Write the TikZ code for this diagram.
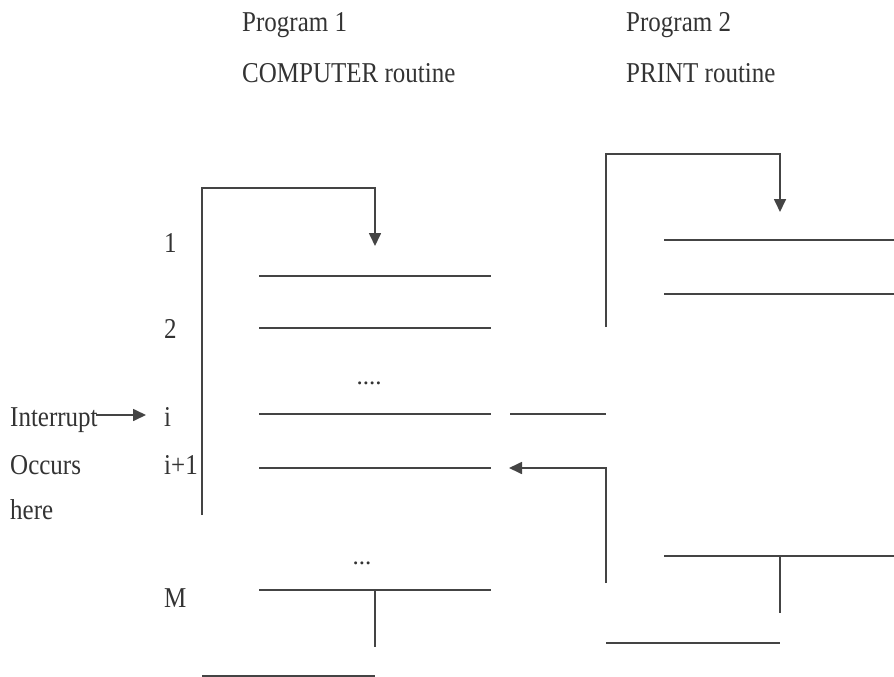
\documentclass[tikz,border=0pt]{standalone}
\usepackage{fontspec}
\setmainfont{Liberation Serif}
\usetikzlibrary{arrows.meta}
\definecolor{ink}{HTML}{333333}
\definecolor{rule}{HTML}{444444}
% slightly tall lettering
\newcommand{\tallt}[1]{\scalebox{1}[1.15]{#1}}
\tikzset{
  lbl/.style={anchor=base west, inner sep=0pt, text=ink, font=\fontsize{25}{28}\selectfont},
  dots/.style={anchor=base, inner sep=0pt, text=ink, font=\fontsize{25}{28}\selectfont},
  wire/.style={draw=rule, line width=1.7pt},
  flow/.style={wire, -{Triangle[length=13pt,width=12pt]}},
}
\begin{document}
\begin{tikzpicture}[x=1pt,y=-1pt]
\useasboundingbox (0,0) rectangle (894,677);

% headings
\node[lbl] (p1)  at (242,32) {\tallt{Program 1}};
\node[lbl] (p1r) at (242,82) {\tallt{COMPUTER routine}};
\node[lbl] (p2)  at (626,32) {\tallt{Program 2}};
\node[lbl] (p2r) at (626,82) {\tallt{PRINT routine}};

% statement numbers of program 1
\node[lbl] (n1) at (164,252) {\tallt{1}};
\node[lbl] (n2) at (164,338) {\tallt{2}};
\node[lbl] (ni) at (164,426) {\tallt{i}};
\node[lbl] (nj) at (164,474) {\tallt{i+1}};
\node[lbl] (nm) at (164,607) {\tallt{M}};
\node[dots] (d1) at (369,384) {....};
\node[dots] (d2) at (362,564) {...};

% interrupt note
\node[lbl] (int) at (10,426) {\tallt{Interrupt}};
\node[lbl] (occ) at (10,474) {\tallt{Occurs}};
\node[lbl] (her) at (10,519) {\tallt{here}};
\coordinate (intA) at (96,415);
\coordinate (intB) at (146,415);
\draw[flow] (intA) -- (intB);

% program 1 statements
\draw[wire] (259,276) -- (491,276);
\draw[wire] (259,328) -- (491,328);
\draw[wire] (259,414) -- (491,414);
\draw[wire] (259,468) -- (491,468);
\draw[wire] (259,590) -- (491,590);
\draw[wire] (375,590) -- (375,647);
\draw[wire] (202,676) -- (375,676);

% entry into program 1
\coordinate (a1) at (202,515);
\coordinate (a2) at (202,188);
\coordinate (a3) at (375,188);
\coordinate (a4) at (375,246);
\draw[flow] (a1) -- (a2) -- (a3) -- (a4);

% jump out at i
\draw[wire] (510,414) -- (606,414);

% program 2 statements
\draw[wire] (664,240) -- (894,240);
\draw[wire] (664,294) -- (894,294);
\draw[wire] (664,556) -- (894,556);
\draw[wire] (780,556) -- (780,613);
\draw[wire] (606,643) -- (780,643);

% entry into program 2
\coordinate (b1) at (606,327);
\coordinate (b2) at (606,154);
\coordinate (b3) at (780,154);
\coordinate (b4) at (780,212);
\draw[flow] (b1) -- (b2) -- (b3) -- (b4);

% return to i+1
\coordinate (c1) at (606,583);
\coordinate (c2) at (606,468);
\coordinate (c3) at (509,468);
\draw[flow] (c1) -- (c2) -- (c3);
\end{tikzpicture}
\end{document}
